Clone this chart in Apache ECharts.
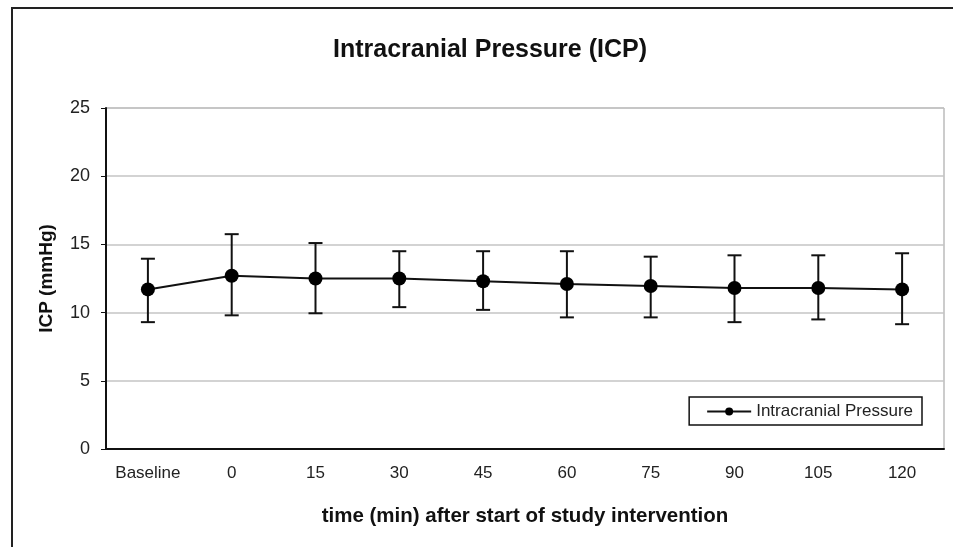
<!DOCTYPE html>
<html><head><meta charset="utf-8">
<script src="https://cdn.jsdelivr.net/npm/echarts@6/dist/echarts.min.js"></script>
<style>html,body{margin:0;padding:0;background:#fff}#c{width:953px;height:547px}</style>
</head><body><div id="c"></div>
<script>
var categories = ['Baseline','0','15','30','45','60','75','90','105','120'];
var means = [11.7, 12.7, 12.5, 12.5, 12.3, 12.1, 11.95, 11.8, 11.8, 11.7];
var upper = [13.95, 15.75, 15.1, 14.5, 14.5, 14.5, 14.1, 14.2, 14.2, 14.35];
var lower = [9.3, 9.8, 9.95, 10.4, 10.2, 9.65, 9.65, 9.3, 9.5, 9.15];
var yTicks = [0,5,10,15,20,25];

var errData = categories.map(function(c,i){return [i, lower[i], upper[i]];});
var chart = echarts.init(document.getElementById('c'));
chart.setOption({
  animation:false,
  backgroundColor:'#fff',
  textStyle:{fontFamily:'Liberation Sans, Arial, sans-serif'},
  title:{text:'Intracranial Pressure (ICP)',left:328,top:33,
    textStyle:{fontSize:25,fontWeight:'bold',color:'#111',fontFamily:'Liberation Sans, Arial, sans-serif'}},
  graphic:[{type:'rect',shape:{x:12,y:8,width:960,height:560},
    style:{fill:'none',stroke:'#222',lineWidth:2},silent:true}],
  grid:{left:106,right:9,top:108,bottom:98,show:true,borderColor:'#999',borderWidth:1},
  legend:{right:31,top:397,itemWidth:44,itemHeight:10,itemGap:8,padding:[6,9,5,17],
    borderColor:'#111',borderWidth:1.5,
    textStyle:{fontSize:17,color:'#222'},
    data:['Intracranial Pressure']},
  xAxis:{type:'category',data:categories,boundaryGap:true,
    name:'time (min) after start of study intervention',nameLocation:'middle',nameGap:57,
    nameTextStyle:{fontSize:20.5,fontWeight:'bold',color:'#111'},
    axisLine:{lineStyle:{color:'#111',width:2}},axisTick:{show:false},
    axisLabel:{fontSize:17,color:'#222',margin:16,interval:0}},
  yAxis:{type:'value',min:0,max:25,interval:5,
    name:'ICP (mmHg)',nameLocation:'middle',nameGap:50,
    nameTextStyle:{fontSize:19,fontWeight:'bold',color:'#111'},
    axisLine:{show:true,lineStyle:{color:'#111',width:2}},
    axisTick:{show:true,length:5,lineStyle:{color:'#111'}},
    axisLabel:{fontSize:18,color:'#222',margin:16,
      formatter:function(v){return yTicks.indexOf(v)>=0?String(v):'';}},
    splitLine:{lineStyle:{color:'#c4c4c4',width:1.5}}},
  series:[
    {type:'custom',name:'err',z:3,data:errData,
     renderItem:function(params,api){
       var x=api.value(0);
       var lo=api.coord([x,api.value(1)]);
       var hi=api.coord([x,api.value(2)]);
       var w=7;
       var st={stroke:'#111',lineWidth:2};
       return {type:'group',children:[
         {type:'line',shape:{x1:lo[0],y1:lo[1],x2:hi[0],y2:hi[1]},style:st},
         {type:'line',shape:{x1:lo[0]-w,y1:lo[1],x2:lo[0]+w,y2:lo[1]},style:st},
         {type:'line',shape:{x1:hi[0]-w,y1:hi[1],x2:hi[0]+w,y2:hi[1]},style:st}
       ]};
     }},
    {type:'line',name:'Intracranial Pressure',data:means,z:4,
     symbol:'circle',symbolSize:14,
     lineStyle:{color:'#111',width:2},itemStyle:{color:'#000'}}
  ]
});
</script></body></html>
